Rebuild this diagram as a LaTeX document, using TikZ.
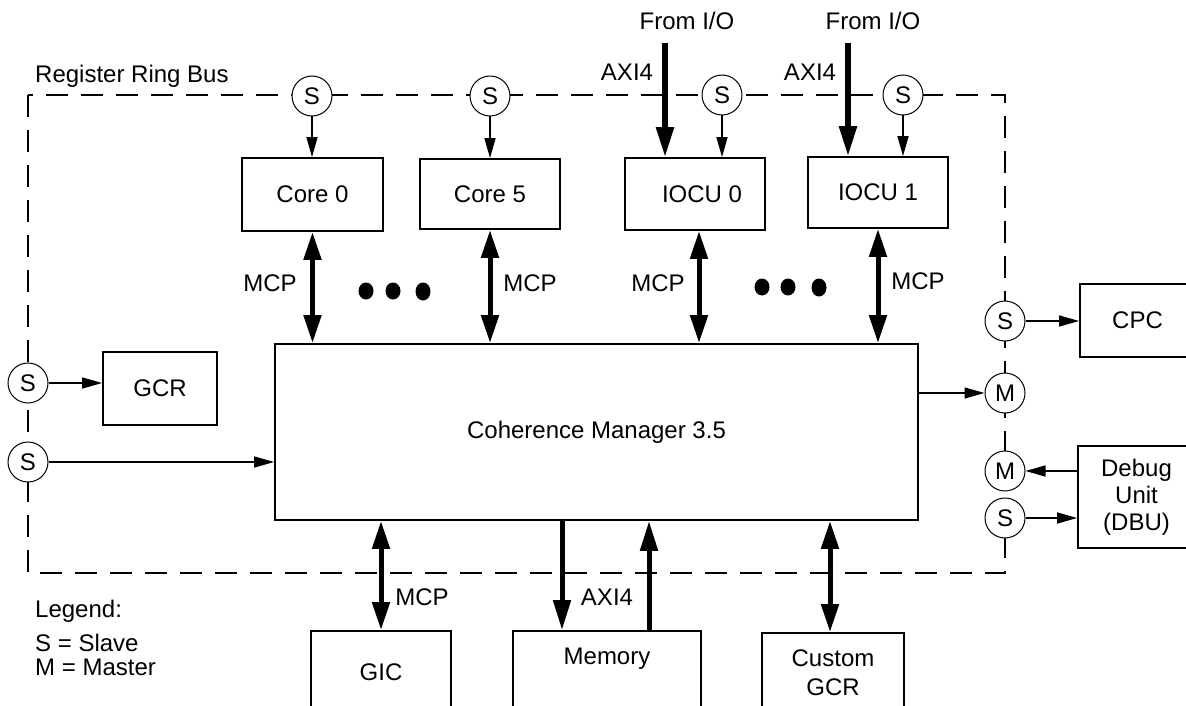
\documentclass[tikz,border=0pt]{standalone}
\usepackage{fontspec}
\setmainfont{Liberation Sans}
\usetikzlibrary{arrows.meta}
\begin{document}
\begin{tikzpicture}[x=1pt,y=-1pt,
  every node/.style={font=\fontsize{24}{28}\selectfont},
  box/.style={draw, line width=1.8pt, inner sep=0pt, align=center},
  port/.style={draw, circle, fill=white, line width=1pt, minimum size=40pt, inner sep=0pt},
  thinarr/.style={line width=1.5pt, -{Triangle[length=20pt,width=11pt]}},
  thickarr/.style={line width=5.5pt, -{Triangle[length=30pt,width=17pt]}},
  biarr/.style={line width=5pt, {Triangle[length=28pt,width=17pt]}-{Triangle[length=28pt,width=17pt]}},
  ring/.style={dash pattern=on 22pt off 13pt, line width=1.8pt},
  lbl/.style={inner sep=0pt}]
\useasboundingbox (0,0) rectangle (1186,706);
\clip (0,0) rectangle (1186,706);

% ring bus
\draw[ring] (28,95) rectangle (1005,573);
\node[lbl, anchor=west] (rrb) at (35,76) {Register Ring Bus};

% boxes
\node[box, minimum width=141pt, minimum height=73pt] (core0) at (312.5,194.5) {Core 0};
\node[box, minimum width=140pt, minimum height=70pt] (core5) at (490,194) {Core 5};
\node[box, minimum width=140pt, minimum height=72pt] (iocu0) at (695,194) {\hspace*{14pt}IOCU 0};
\node[box, minimum width=140pt, minimum height=71pt] (iocu1) at (878,192.5) {IOCU 1};
\node[box, minimum width=643pt, minimum height=176pt] (cm) at (596.5,432) {Coherence Manager 3.5};
\node[box, minimum width=114pt, minimum height=73pt] (gcr) at (160,388.5) {GCR};
\node[box, minimum width=115pt, minimum height=73pt] (cpc) at (1137.5,320.5) {CPC};
\node[box, minimum width=117pt, minimum height=102pt, font=\fontsize{24}{27}\selectfont] (dbu) at (1136.5,497) {Debug\\Unit\\(DBU)};
\node[box, minimum width=140pt, minimum height=82pt] (gic) at (381,672) {GIC};
\node[box, minimum width=188pt, minimum height=82pt] (mem) at (607,672) {Memory\\[4pt]};
\node[box, minimum width=142pt, minimum height=80pt, font=\fontsize{24}{29}\selectfont] (cgcr) at (833,673) {Custom\\GCR};

% ports
\node[port] (sc0) at (312,96) {S};
\node[port] (sc5) at (490,96) {S};
\node[port] (si0) at (722,95) {S};
\node[port] (si1) at (903,95) {S};
\node[port] (sl1) at (28,383) {S};
\node[port] (sl2) at (28,462) {S};
\node[port] (scpc) at (1005,321) {S};
\node[port] (mcm) at (1005,393) {M};
\node[port] (mdbu) at (1005,471) {M};
\node[port] (sdbu) at (1005,518) {S};

% slave arrows from ring
\draw[thinarr] (sc0.south) -- (sc0.south |- core0.north);
\draw[thinarr] (sc5.south) -- (sc5.south |- core5.north);
\draw[thinarr] (si0.south) -- (si0.south |- iocu0.north);
\draw[thinarr] (si1.south) -- (si1.south |- iocu1.north);
\draw[thinarr] (sl1.east) -- (sl1.east -| gcr.west);
\draw[thinarr] (sl2.east) -- (sl2.east -| cm.west);
\draw[thinarr] (scpc.east) -- (scpc.east -| cpc.west);
\draw[thinarr] (cm.east |- mcm) -- (mcm.west);
\draw[thinarr] (dbu.west |- mdbu) -- (mdbu.east);
\draw[thinarr] (sdbu.east) -- (sdbu.east -| dbu.west);

% AXI4 from I/O
\coordinate (io0) at (665,43);
\coordinate (io1) at (848,43);
\draw[thickarr] (io0) -- (io0 |- iocu0.north);
\draw[thickarr] (io1) -- (io1 |- iocu1.north);
\node[lbl] (fio0) at (687,21) {From I/O};
\node[lbl] (fio1) at (873,21) {From I/O};
\node[lbl] (ax0) at (627,72) {AXI4};
\node[lbl] (ax1) at (810,72) {AXI4};

% MCP links to CM
\coordinate (c3) at (699,0);
\draw[biarr] (core0.south) -- (core0.south |- cm.north);
\draw[biarr] (core5.south) -- (core5.south |- cm.north);
\draw[biarr] (iocu0.south -| c3) -- (cm.north -| c3);
\draw[biarr] (iocu1.south) -- (iocu1.south |- cm.north);
\node[lbl] (m1) at (270,283) {MCP};
\node[lbl] (m2) at (530,283) {MCP};
\node[lbl] (m3) at (658,283) {MCP};
\node[lbl] (m4) at (918,281) {MCP};

% dots
\fill (366,291) ellipse (7.5pt and 8.5pt);
\fill (393,291) ellipse (7.5pt and 8.5pt);
\fill (423,291.5) ellipse (7.5pt and 9pt);
\fill (762,287) ellipse (7.5pt and 8.5pt);
\fill (788,287) ellipse (7.5pt and 8.5pt);
\fill (819,287.5) ellipse (7.5pt and 9pt);

% bottom links
\coordinate (cgx) at (830,0);
\coordinate (mdx) at (562,0);
\coordinate (mux) at (649,0);
\draw[biarr] (cm.south -| gic.north) -- (gic.north);
\draw[thickarr, line width=5pt] (cm.south -| mdx) -- (mem.north -| mdx);
\draw[thickarr, line width=5pt] (mem.north -| mux) -- (cm.south -| mux);
\draw[biarr] (cm.south -| cgx) -- (cgcr.north -| cgx);
\node[lbl] (m5) at (422,597) {MCP};
\node[lbl] (ax2) at (607,597) {AXI4};

% legend
\node[lbl, anchor=west] (lg0) at (35,611) {Legend:};
\node[lbl, anchor=west] (lg1) at (35,643) {S = Slave};
\node[lbl, anchor=west] (lg2) at (35,667) {M = Master};
\end{tikzpicture}
\end{document}
